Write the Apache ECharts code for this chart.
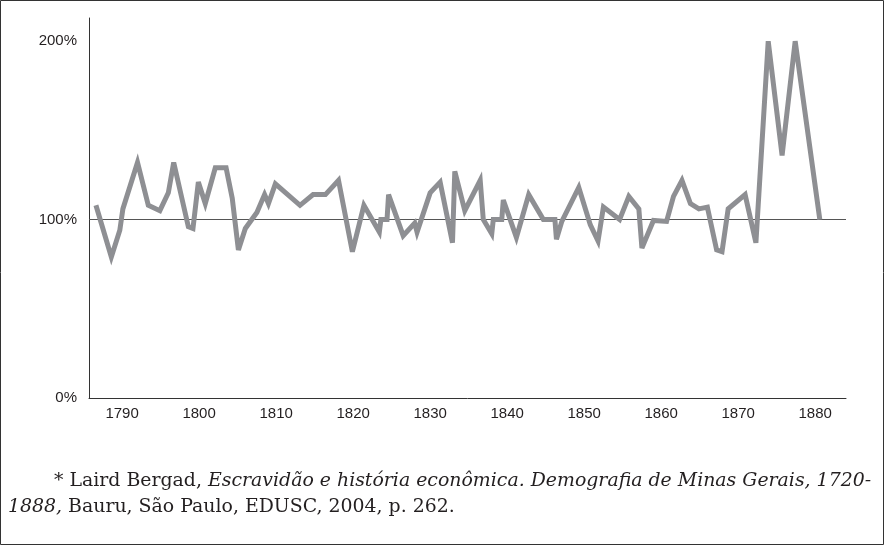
<!DOCTYPE html>
<html>
<head>
<meta charset="utf-8">
<script src="https://cdn.jsdelivr.net/npm/echarts@6/dist/echarts.min.js"></script>
<style>
html,body{margin:0;padding:0;background:#fff;}
#chart{width:884px;height:545px;}
</style>
</head>
<body>
<div id="chart"></div>
<script>
// Year of each observation (x) and ratio in percent (y)
var years = [1786.6,1788.6,1789.7,1790.1,1792.0,1793.4,1794.9,1796.0,1796.7,1798.6,1799.2,1799.9,1800.8,1802.1,1803.5,1804.3,1805.1,1806.0,1807.5,1808.5,1809.0,1809.9,1813.1,1814.8,1816.4,1818.1,1819.9,1821.4,1823.4,1823.6,1824.4,1824.6,1826.5,1828.0,1828.3,1830.0,1831.3,1832.9,1833.2,1834.5,1836.5,1836.9,1838.0,1838.2,1839.3,1839.5,1841.2,1842.8,1844.7,1846.2,1846.4,1847.1,1849.3,1850.8,1851.8,1852.5,1854.6,1855.8,1857.1,1857.5,1859.0,1860.7,1861.6,1862.7,1863.8,1864.9,1866.0,1867.2,1867.9,1868.7,1870.9,1872.3,1873.9,1875.7,1877.4,1880.6];
var values = [108,79,94,106,132,108,105,115,132,96,95,121,109,129,129,112,83,95,104,114,109,120,108,114,114,122,82,108,93,100,100,114,91,98,93,115,121,87,127,105,122,100,92,100,100,111,90,114,100,100,89,99,118,97,88,107,100,113,106,84,99.5,99,113,122,109,106,107,83,82,106,114,87,200,136,200,100];
var xTicks = [1790,1800,1810,1820,1830,1840,1850,1860,1870,1880];
var yTicks = [0,100,200];
var refValue = 100;

var seriesData = years.map(function(y,i){ return [y, values[i]]; });

var serif = 'DejaVu Serif';
var richStyles = {
  r:{fontFamily:serif,fontSize:18.9,lineHeight:22,fontWeight:'normal',color:'#231f20'},
  i:{fontFamily:serif,fontSize:18.9,lineHeight:22,fontWeight:'normal',fontStyle:'italic',color:'#231f20'}
};

var chart = echarts.init(document.getElementById('chart'), null, {renderer:'canvas'});
chart.setOption({
  animation:false,
  backgroundColor:'#ffffff',
  title:[{
    left:54, top:470, padding:0,
    text:'{r|* Laird Bergad, }{i|Escravidão e história econômica. Demografia de Minas Gerais, 1720-}',
    textStyle:{fontWeight:'normal', rich:richStyles}
  },{
    left:8, top:496, padding:0,
    text:'{i|1888,}{r| Bauru, São Paulo, EDUSC, 2004, p. 262.}',
    textStyle:{fontWeight:'normal', rich:richStyles}
  }],
  graphic:[{
    type:'rect', silent:true,
    shape:{x:0.5,y:0.5,width:883,height:544},
    style:{fill:'none',stroke:'#333',lineWidth:1}
  }],
  grid:{left:89, top:18, width:757, height:380, containLabel:false},
  xAxis:{
    type:'value', min:1785.7, max:1884,
    axisLine:{show:true,onZero:false,lineStyle:{color:'#333',width:1}},
    axisTick:{show:false},
    splitLine:{show:false},
    axisLabel:{customValues:xTicks, formatter:function(v){return String(Math.round(v));}, color:'#231f20', fontFamily:'Liberation Sans', fontSize:15, margin:8}
  },
  yAxis:{
    type:'value', min:0, max:213,
    axisLine:{show:true,lineStyle:{color:'#333',width:1}},
    axisTick:{show:false},
    splitLine:{show:false},
    axisLabel:{customValues:yTicks, formatter:function(v){return Math.round(v)+'%';}, color:'#231f20', fontFamily:'Liberation Sans', fontSize:15, margin:12}
  },
  series:[{
    type:'line',
    data:seriesData,
    showSymbol:false,
    symbol:'none',
    lineStyle:{color:'#8e8f93', width:5, join:'miter', miterLimit:4, cap:'butt'},
    z:3,
    markLine:{
      silent:true, symbol:['none','none'], z:2,
      label:{show:false},
      lineStyle:{color:'#555', width:1, type:'solid'},
      data:[{yAxis:refValue}]
    }
  }]
});
</script>
</body>
</html>
